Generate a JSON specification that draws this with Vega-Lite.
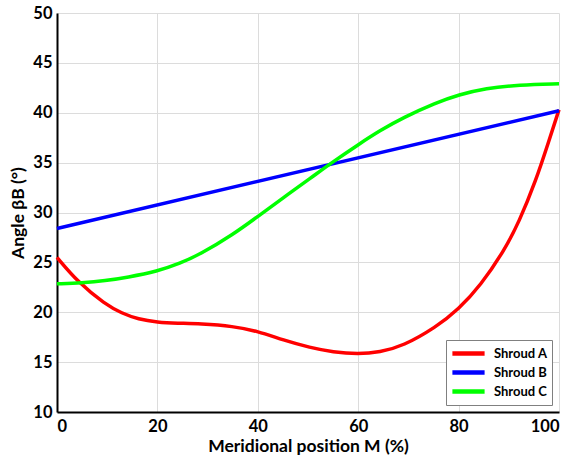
{
  "$schema": "https://vega.github.io/schema/vega-lite/v6.json",
  "width": 502,
  "height": 399,
  "autosize": {"type": "none"},
  "padding": {"left": 57, "top": 13, "right": 14, "bottom": 48},
  "background": "white",
  "config": {
    "view": {"stroke": null},
    "font": "Lato",
    "axis": {
      "labelFont": "Lato", "labelFontWeight": "bold", "labelFontSize": 16.5, "labelColor": "black",
      "titleFont": "Lato", "titleFontWeight": "bold", "titleFontSize": 17.5, "titleColor": "black",
      "domainColor": "black", "domainWidth": 2,
      "gridColor": "#dcdcdc", "gridWidth": 1,
      "ticks": false
    }
  },
  "data": {
    "values": [
      {"series": "Shroud A", "m": 0, "angle": 25.5},
      {"series": "Shroud A", "m": 4.2, "angle": 23.0},
      {"series": "Shroud A", "m": 9.6, "angle": 20.8},
      {"series": "Shroud A", "m": 12.9, "angle": 19.9},
      {"series": "Shroud A", "m": 16.2, "angle": 19.3},
      {"series": "Shroud A", "m": 20, "angle": 19.0},
      {"series": "Shroud A", "m": 24, "angle": 18.9},
      {"series": "Shroud A", "m": 28.5, "angle": 18.85},
      {"series": "Shroud A", "m": 35.1, "angle": 18.6},
      {"series": "Shroud A", "m": 40, "angle": 18.1},
      {"series": "Shroud A", "m": 45.1, "angle": 17.2},
      {"series": "Shroud A", "m": 50.4, "angle": 16.45},
      {"series": "Shroud A", "m": 55, "angle": 16.0},
      {"series": "Shroud A", "m": 60, "angle": 15.8},
      {"series": "Shroud A", "m": 64.3, "angle": 16.0},
      {"series": "Shroud A", "m": 68.9, "angle": 16.6},
      {"series": "Shroud A", "m": 75.5, "angle": 18.5},
      {"series": "Shroud A", "m": 80, "angle": 20.3},
      {"series": "Shroud A", "m": 84.4, "angle": 22.7},
      {"series": "Shroud A", "m": 89.1, "angle": 26.2},
      {"series": "Shroud A", "m": 92, "angle": 29.0},
      {"series": "Shroud A", "m": 95.4, "angle": 33.2},
      {"series": "Shroud A", "m": 98, "angle": 37.2},
      {"series": "Shroud A", "m": 100, "angle": 40.3},
      {"series": "Shroud B", "m": 0, "angle": 28.4},
      {"series": "Shroud B", "m": 100, "angle": 40.2},
      {"series": "Shroud C", "m": 0, "angle": 22.85},
      {"series": "Shroud C", "m": 5, "angle": 22.95},
      {"series": "Shroud C", "m": 9.6, "angle": 23.15},
      {"series": "Shroud C", "m": 14, "angle": 23.5},
      {"series": "Shroud C", "m": 20, "angle": 24.1},
      {"series": "Shroud C", "m": 24.5, "angle": 24.9},
      {"series": "Shroud C", "m": 28.5, "angle": 25.8},
      {"series": "Shroud C", "m": 35.1, "angle": 27.8},
      {"series": "Shroud C", "m": 40, "angle": 29.6},
      {"series": "Shroud C", "m": 45.1, "angle": 31.5},
      {"series": "Shroud C", "m": 50.4, "angle": 33.4},
      {"series": "Shroud C", "m": 55, "angle": 35.1},
      {"series": "Shroud C", "m": 60, "angle": 36.8},
      {"series": "Shroud C", "m": 64.3, "angle": 38.2},
      {"series": "Shroud C", "m": 68.9, "angle": 39.5},
      {"series": "Shroud C", "m": 75.5, "angle": 41.0},
      {"series": "Shroud C", "m": 80, "angle": 41.8},
      {"series": "Shroud C", "m": 85.4, "angle": 42.45},
      {"series": "Shroud C", "m": 92, "angle": 42.8},
      {"series": "Shroud C", "m": 100, "angle": 42.9}
    ]
  },
  "mark": {"type": "line", "strokeWidth": 3.5, "interpolate": "basis"},
  "encoding": {
    "x": {
      "field": "m", "type": "quantitative",
      "scale": {"domain": [0, 100], "nice": false},
      "axis": {"values": [0, 20, 40, 60, 80, 100], "title": "Meridional position M (%)", "labelPadding": 6, "titlePadding": 3}
    },
    "y": {
      "field": "angle", "type": "quantitative",
      "scale": {"domain": [10, 50], "nice": false, "zero": false},
      "axis": {"values": [10, 15, 20, 25, 30, 35, 40, 45, 50], "title": "Angle βB (°)", "labelPadding": 5, "titlePadding": 5}
    },
    "color": {
      "field": "series", "type": "nominal",
      "scale": {"domain": ["Shroud A", "Shroud B", "Shroud C"], "range": ["#ff0000", "#0000ff", "#00ff00"]},
      "legend": {
        "title": null, "orient": "bottom-right", "offset": 7,
        "symbolType": "M-2.3,0H2.3", "symbolStrokeWidth": 4.5, "symbolSize": 196,
        "symbolOffset": 9, "labelOffset": 16,
        "labelFont": "Lato", "labelFontWeight": "bold", "labelFontSize": 13, "labelColor": "black",
        "strokeColor": "#808080", "fillColor": "white", "padding": 4, "rowPadding": -2
      }
    }
  }
}
